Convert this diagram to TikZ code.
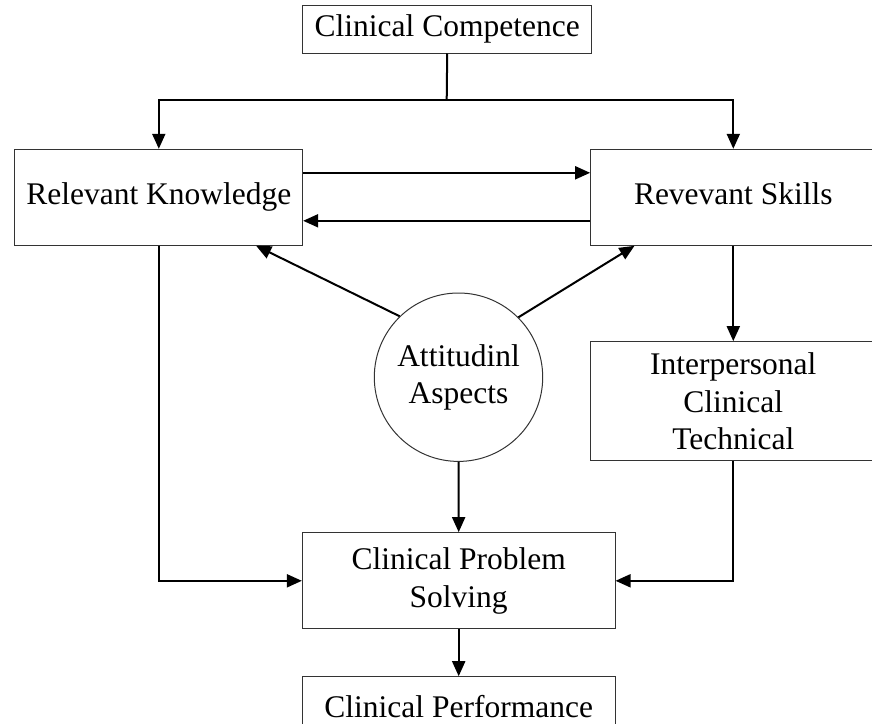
\documentclass[tikz,border=0pt]{standalone}
\usepackage{fontspec}
\setmainfont{Liberation Serif}
\usetikzlibrary{arrows.meta}
\begin{document}
\begin{tikzpicture}[x=1pt,y=-1pt,
  box/.style={draw=black!80, line width=1pt, fill=white, inner sep=0pt, align=center,
    font=\fontsize{31.5}{37.5}\selectfont},
  oneline/.style={box, text height=21.7pt, text depth=6.9pt},
  conn/.style={line width=2pt, -{Triangle[length=15pt,width=13pt]}},
  plainline/.style={line width=2pt}]
\useasboundingbox (0,0) rectangle (872,723);
\clip (0,0) rectangle (872,723);
\node[oneline, minimum width=289pt, minimum height=48pt] (cc) at (447.2,29) {Clinical Competence};
\node[oneline, minimum width=287.7pt, minimum height=96pt] (rk) at (158.8,197.3) {Relevant Knowledge};
\node[oneline, minimum width=285.3pt, minimum height=96pt] (rs) at (733.3,197.3) {Revevant Skills};
\node[box, circle, minimum size=168.4pt] (att) at (458.5,377.2) {Attitudinl\\Aspects};
\node[box, minimum width=285.3pt, minimum height=119.3pt] (ip) at (733.3,401.3) {Interpersonal\\Clinical\\Technical};
\node[box, minimum width=312.7pt, minimum height=96.3pt] (cps) at (458.7,580.8) {Clinical Problem\\Solving};
\node[oneline, minimum width=312.7pt, minimum height=67.6pt] (cp) at (458.7,710.5) {Clinical Performance};
\coordinate (j) at (446.7,100);
\draw[plainline] (cc.south) -- (j);
\draw[conn] (j) -| (rk.north);
\draw[conn] (j) -| (rs.north);
\draw[conn] ([yshift=-24pt]rk.north east) -- ([yshift=-24pt]rs.north west);
\draw[conn] ([yshift=25pt]rs.south west) -- ([yshift=25pt]rk.south east);
\draw[conn] (att.134) -- ([xshift=-47pt]rk.south east);
\draw[conn] (att.45) -- ([xshift=44.3pt]rs.south west);
\draw[conn] (rk.south) |- (cps.west);
\draw[conn] (ip.south) |- (cps.east);
\draw[conn] (att.south) -- (cps.north);
\draw[conn] (rs.south) -- (ip.north);
\draw[conn] (cps.south) -- (cp.north);
\end{tikzpicture}
\end{document}
